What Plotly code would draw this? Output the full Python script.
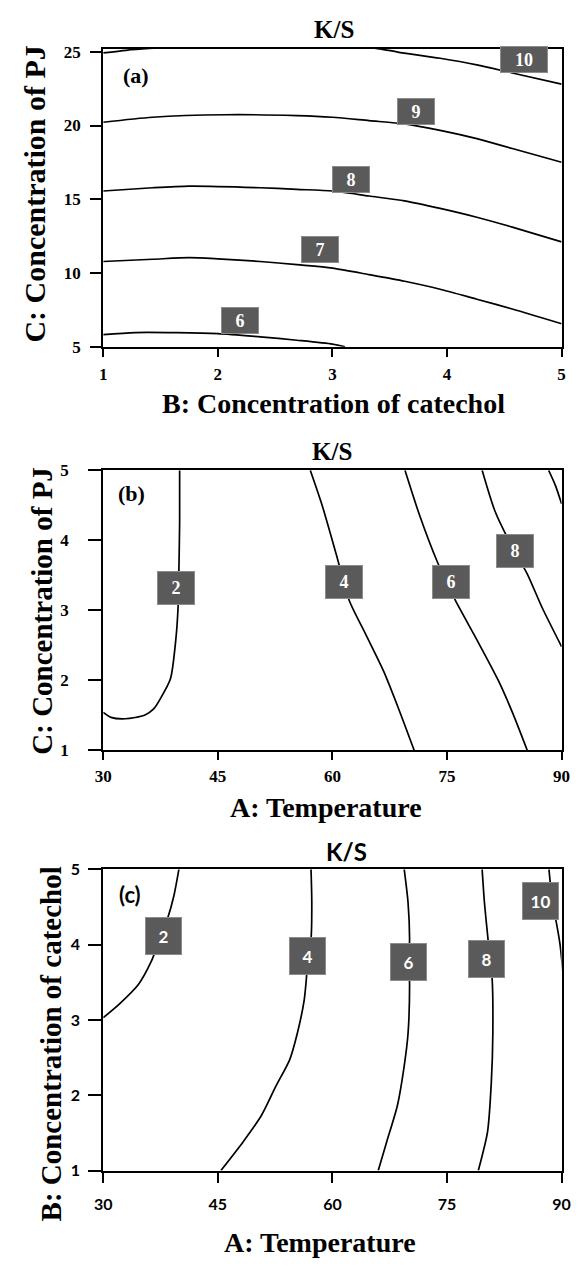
import plotly.graph_objects as go

# ---------------- data: panel (a) K/S vs B (catechol) and C (PJ) ----------------
A_X_TICKS = [1, 2, 3, 4, 5]
A_Y_TICKS = [5, 10, 15, 20, 25]
A_L6_X = [1.0, 1.28, 2.0, 2.37, 2.69, 3.0, 3.11]
A_L6_Y = [5.82, 5.96, 5.89, 5.67, 5.44, 5.18, 5.0]
A_L7_X = [1.0, 1.43, 1.75, 2.0, 2.37, 2.69, 3.0, 3.32, 3.63, 3.94, 4.26, 4.57, 5.0]
A_L7_Y = [10.78, 10.93, 11.04, 10.96, 10.78, 10.56, 10.33, 9.89, 9.44, 8.9, 8.22, 7.56, 6.56]
A_L8_X = [1.0, 1.43, 1.75, 2.37, 2.69, 3.0, 3.32, 3.63, 3.94, 4.26, 4.57, 5.0]
A_L8_Y = [15.56, 15.78, 15.89, 15.78, 15.67, 15.56, 15.22, 14.89, 14.38, 13.78, 13.11, 12.11]
A_L9_X = [1.0, 1.43, 2.06, 2.69, 3.0, 3.32, 3.63, 3.94, 4.26, 4.57, 5.0]
A_L9_Y = [20.22, 20.56, 20.73, 20.67, 20.56, 20.33, 20.11, 19.67, 19.11, 18.44, 17.51]
A_L10_X = [1.0, 1.2, 1.4, 1.8, 2.5, 3.0, 3.41, 3.57, 3.94, 4.26, 4.57, 5.0]
A_L10_Y = [24.92, 25.1, 25.22, 25.4, 25.6, 25.5, 25.2, 24.98, 24.56, 24.11, 23.56, 22.8]
A_LABELS = ["6", "7", "8", "9", "10"]
A_LABEL_X = [2.19, 2.89, 3.16, 3.73, 4.67]
A_LABEL_Y = [6.8, 11.58, 16.33, 20.96, 24.45]

# ---------------- data: panel (b) K/S vs A (temperature) and C (PJ) ----------------
B_X_TICKS = [30, 45, 60, 75, 90]
B_Y_TICKS = [1, 2, 3, 4, 5]
B_L2_X = [30.0, 31.0, 32.9, 35.4, 36.6, 37.5, 38.8, 39.5, 39.8, 39.9, 40.0, 40.0]
B_L2_Y = [1.54, 1.47, 1.45, 1.50, 1.59, 1.74, 2.02, 2.58, 3.05, 3.56, 4.26, 5.0]
B_L4_X = [57.1, 58.65, 60.5, 62.2, 64.3, 66.7, 68.5, 70.7]
B_L4_Y = [5.0, 4.5, 3.8, 3.14, 2.67, 2.13, 1.64, 1.0]
B_L6_X = [69.5, 71.4, 73.7, 76.1, 78.9, 81.7, 83.6, 85.5]
B_L6_Y = [5.0, 4.36, 3.70, 3.14, 2.58, 2.0, 1.53, 1.0]
B_L8_X = [79.6, 81.3, 83.6, 85.5, 87.4, 90.0]
B_L8_Y = [5.0, 4.41, 3.89, 3.52, 3.05, 2.48]
B_L10_X = [88.3, 89.2, 90.0]
B_L10_Y = [5.0, 4.78, 4.52]
B_LABELS = ["2", "4", "6", "8"]
B_LABEL_X = [39.57, 61.57, 75.52, 83.91]
B_LABEL_Y = [3.32, 3.41, 3.41, 3.84]

# ---------------- data: panel (c) K/S vs A (temperature) and B (catechol) ----------------
C_X_TICKS = [30, 45, 60, 75, 90]
C_Y_TICKS = [1, 2, 3, 4, 5]
C_L2_X = [30.0, 32.1, 34.6, 36.3, 37.1, 38.4, 39.25, 39.9]
C_L2_Y = [3.03, 3.21, 3.47, 3.78, 3.99, 4.34, 4.65, 5.0]
C_L4_X = [57.2, 57.3, 57.2, 56.8, 56.6, 56.3, 55.4, 54.4, 52.6, 50.7, 48.3, 45.4]
C_L4_Y = [5.0, 4.56, 4.08, 3.85, 3.56, 3.26, 2.82, 2.47, 2.12, 1.73, 1.38, 1.0]
C_L6_X = [69.4, 69.9, 70.1, 70.0, 70.1, 69.9, 69.4, 68.5, 67.1, 66.0]
C_L6_Y = [5.0, 4.56, 4.08, 3.77, 3.47, 2.82, 2.39, 1.86, 1.38, 1.0]
C_L8_X = [79.6, 79.9, 80.4, 80.6, 80.9, 81.0, 80.8, 80.3, 79.1]
C_L8_Y = [5.0, 4.56, 4.04, 3.81, 3.56, 2.82, 2.17, 1.51, 1.0]
C_L10_X = [88.35, 88.8, 89.3, 89.8, 90.3]
C_L10_Y = [5.0, 4.56, 4.3, 4.0, 3.5]
C_LABELS = ["2", "4", "6", "8", "10"]
C_LABEL_X = [37.9, 56.8, 69.9, 80.2, 87.3]
C_LABEL_Y = [4.12, 3.85, 3.77, 3.81, 4.58]

# ---------------- figure ----------------
W, H = 581, 1266
OFF = 8  # the page body adds an 8 px margin; lay out so content lands where the reference has it
SERIF = "Liberation Serif"
SANS = "Lato"

fig = go.Figure()

panels = [
    ("x", "y", [(A_L6_X, A_L6_Y), (A_L7_X, A_L7_Y), (A_L8_X, A_L8_Y), (A_L9_X, A_L9_Y), (A_L10_X, A_L10_Y)]),
    ("x2", "y2", [(B_L2_X, B_L2_Y), (B_L4_X, B_L4_Y), (B_L6_X, B_L6_Y), (B_L8_X, B_L8_Y), (B_L10_X, B_L10_Y)]),
    ("x3", "y3", [(C_L2_X, C_L2_Y), (C_L4_X, C_L4_Y), (C_L6_X, C_L6_Y), (C_L8_X, C_L8_Y), (C_L10_X, C_L10_Y)]),
]
for xa, ya, lines in panels:
    for lx, ly in lines:
        fig.add_trace(go.Scatter(x=lx, y=ly, xaxis=xa, yaxis=ya, mode="lines",
                                 line=dict(color="black", width=1.7, shape="spline", smoothing=0.7),
                                 showlegend=False, hoverinfo="skip"))


def px_to_paper_x(px):
    return (px - OFF) / W


def px_to_paper_y(py):
    return 1 - (py - OFF) / H


XDOM = [px_to_paper_x(97), px_to_paper_x(570)]
DOM_A = [px_to_paper_y(342), px_to_paper_y(39)]
DOM_B = [px_to_paper_y(752), px_to_paper_y(467.5)]
DOM_C = [px_to_paper_y(1179), px_to_paper_y(873)]


def axis(domain, rng, ticks, anchor, font, ticklen, standoff):
    return dict(domain=domain, range=rng, tickmode="array", tickvals=ticks,
                ticktext=[str(t) for t in ticks], anchor=anchor,
                showline=True, linecolor="black", linewidth=2, mirror=True,
                ticks="outside", ticklen=ticklen, tickwidth=2, tickcolor="black",
                showgrid=False, zeroline=False, tickfont=font,
                ticklabelstandoff=standoff, fixedrange=True)


serif_tick = dict(family=SERIF, size=17, color="black", weight="bold")
sans_tick = dict(family=SANS, size=16, color="black", weight="bold")

fig.update_layout(
    width=W, height=H, margin=dict(l=0, r=0, t=0, b=0),
    paper_bgcolor="white", plot_bgcolor="white", showlegend=False,
    xaxis=axis(XDOM, [1, 5], A_X_TICKS, "y", serif_tick, 8, 3),
    yaxis=axis(DOM_A, [5, 25.22], A_Y_TICKS, "x", serif_tick, 11, 6),
    xaxis2=axis(XDOM, [30, 90], B_X_TICKS, "y2", serif_tick, 8, 1),
    yaxis2=axis(DOM_B, [1, 5], B_Y_TICKS, "x2", serif_tick, 13, 16),
    xaxis3=axis(XDOM, [30, 90], C_X_TICKS, "y3", sans_tick, 10, 8),
    yaxis3=axis(DOM_C, [1, 5], C_Y_TICKS, "x3", sans_tick, 13, 5),
)

ann = []


def box_labels(labels, xs, ys, xref, yref, fam, size, w1, w2, h):
    for t, x, y in zip(labels, xs, ys):
        ann.append(dict(x=x, y=y, xref=xref, yref=yref, text=t, showarrow=False,
                        font=dict(family=fam, size=size, color="white", weight="bold"),
                        bgcolor="#5a5a5a", bordercolor="#8c8c8c", borderwidth=1,
                        width=w2 if len(t) > 1 else w1, height=h,
                        align="center", valign="middle"))


box_labels(A_LABELS, A_LABEL_X, A_LABEL_Y, "x", "y", SERIF, 18, 34, 44, 23)
box_labels(B_LABELS, B_LABEL_X, B_LABEL_Y, "x2", "y2", SERIF, 18, 34, 44, 30)
box_labels(C_LABELS, C_LABEL_X, C_LABEL_Y, "x3", "y3", SANS, 17, 33, 33, 34)


def text(px, py, t, fam, size, angle=0):
    ann.append(dict(x=px_to_paper_x(px), y=px_to_paper_y(py), xref="paper", yref="paper",
                    text=t, showarrow=False, textangle=angle,
                    xanchor="center", yanchor="middle",
                    font=dict(family=fam, size=size, color="black", weight="bold")))


# titles
text(335, 20, "K/S", SERIF, 25)
text(333, 448, "K/S", SERIF, 25)
text(348, 855, "K/S", SANS, 24)
# panel letters
text(131, 66, "(a)", SERIF, 22)
text(126, 491, "(b)", SERIF, 22)
text(125, 899, "(c)", SANS, 22)
# axis titles
text(335, 400, "B: Concentration of catechol", SERIF, 28)
text(26, 187, "C: Concentration of PJ", SERIF, 30, -90)
text(327, 810, "A: Temperature", SERIF, 28)
text(34, 610, "C: Concentration of PJ", SERIF, 29, -90)
text(321, 1252, "A: Temperature", SERIF, 28)
text(43, 1050, "B: Concentration of catechol", SERIF, 29, -90)

fig.update_layout(annotations=ann)
fig.write_html("out.html")
